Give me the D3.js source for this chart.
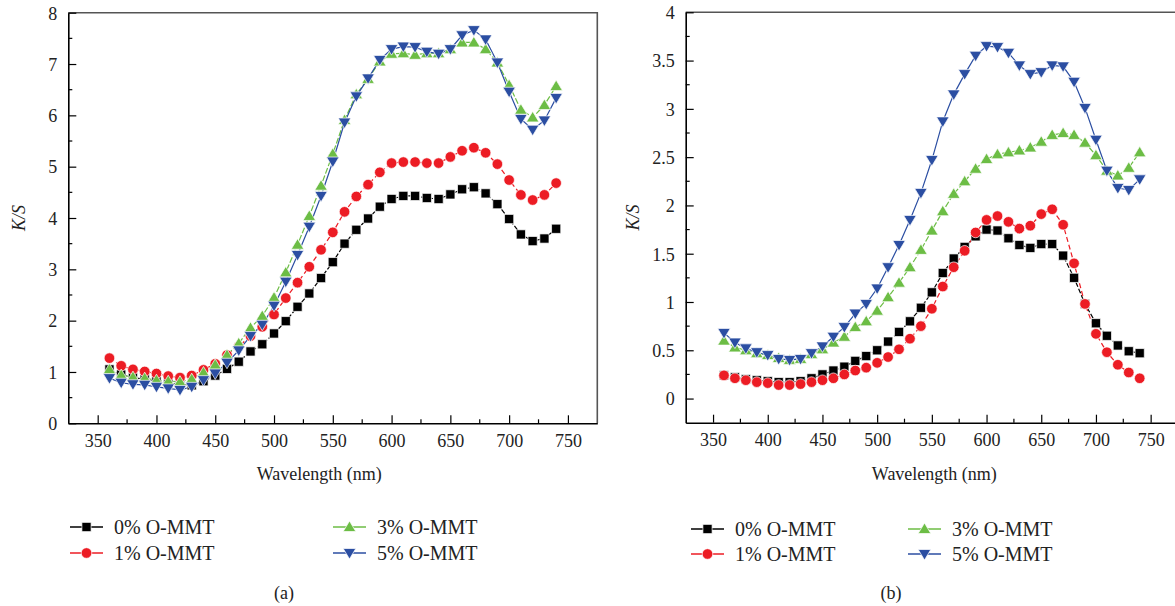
<!DOCTYPE html>
<html>
<head>
<meta charset="utf-8">
<script src="https://cdn.jsdelivr.net/npm/d3@7"></script>
<style>
  html, body { margin: 0; padding: 0; background: #fff; }
  svg { display: block; }
  svg text { font-family: "Liberation Serif", "Times New Roman", Times, serif; fill: #222; }
</style>
</head>
<body>
<svg id="fig" width="1175" height="606"></svg>
<script>
// Wavelengths (nm) at which K/S was measured
const wavelengths = [360, 370, 380, 390, 400, 410, 420, 430, 440, 450,
  460, 470, 480, 490, 500, 510, 520, 530, 540, 550,
  560, 570, 580, 590, 600, 610, 620, 630, 640, 650,
  660, 670, 680, 690, 700, 710, 720, 730, 740];

const seriesNames = ["0% O-MMT", "1% O-MMT", "3% O-MMT", "5% O-MMT"];

// Panel (a)
const ksA0 = [1.05, 0.95, 0.89, 0.86, 0.82, 0.78, 0.76, 0.74, 0.82, 0.93,
  1.06, 1.20, 1.40, 1.54, 1.75, 1.99, 2.27, 2.53, 2.83, 3.14,
  3.50, 3.77, 3.99, 4.22, 4.37, 4.43, 4.43, 4.39, 4.37, 4.46,
  4.56, 4.60, 4.48, 4.27, 3.98, 3.68, 3.55, 3.60, 3.79];
const ksA1 = [1.27, 1.12, 1.05, 1.01, 0.97, 0.92, 0.89, 0.93, 1.04, 1.16,
  1.33, 1.50, 1.70, 1.88, 2.12, 2.44, 2.74, 3.05, 3.38, 3.72,
  4.12, 4.42, 4.65, 4.89, 5.07, 5.09, 5.09, 5.07, 5.07, 5.19,
  5.31, 5.37, 5.27, 5.05, 4.74, 4.45, 4.35, 4.45, 4.68];
const ksA3 = [1.05, 0.94, 0.90, 0.88, 0.84, 0.82, 0.81, 0.86, 0.99, 1.14,
  1.33, 1.56, 1.86, 2.09, 2.45, 2.94, 3.48, 4.04, 4.63, 5.25,
  5.91, 6.41, 6.71, 7.05, 7.20, 7.21, 7.18, 7.21, 7.21, 7.29,
  7.42, 7.42, 7.29, 7.03, 6.59, 6.11, 5.96, 6.20, 6.57];
const ksA5 = [0.88, 0.79, 0.76, 0.75, 0.71, 0.68, 0.65, 0.71, 0.84, 0.97,
  1.18, 1.42, 1.70, 1.92, 2.29, 2.76, 3.28, 3.83, 4.43, 5.10,
  5.86, 6.37, 6.72, 7.08, 7.29, 7.34, 7.33, 7.24, 7.20, 7.29,
  7.56, 7.66, 7.48, 7.03, 6.46, 5.93, 5.72, 5.90, 6.34];

// Panel (b)
const ksB0 = [0.24, 0.22, 0.20, 0.19, 0.18, 0.17, 0.17, 0.18, 0.21, 0.25,
  0.29, 0.33, 0.39, 0.44, 0.50, 0.59, 0.69, 0.80, 0.94, 1.10,
  1.30, 1.45, 1.57, 1.68, 1.75, 1.74, 1.66, 1.59, 1.56, 1.60,
  1.60, 1.48, 1.25, 0.98, 0.78, 0.65, 0.55, 0.49, 0.47];
const ksB1 = [0.24, 0.21, 0.19, 0.17, 0.16, 0.14, 0.14, 0.15, 0.17, 0.19,
  0.21, 0.25, 0.29, 0.32, 0.37, 0.43, 0.51, 0.62, 0.75, 0.93,
  1.16, 1.36, 1.53, 1.72, 1.85, 1.89, 1.83, 1.76, 1.79, 1.91,
  1.96, 1.80, 1.40, 0.98, 0.67, 0.48, 0.35, 0.27, 0.21];
const ksB3 = [0.60, 0.53, 0.50, 0.47, 0.45, 0.42, 0.40, 0.41, 0.46, 0.51,
  0.58, 0.64, 0.74, 0.80, 0.91, 1.05, 1.20, 1.36, 1.54, 1.74,
  1.94, 2.12, 2.25, 2.38, 2.48, 2.53, 2.55, 2.57, 2.60, 2.66,
  2.73, 2.75, 2.73, 2.65, 2.52, 2.36, 2.31, 2.39, 2.55];
const ksB5 = [0.68, 0.58, 0.52, 0.48, 0.45, 0.41, 0.40, 0.41, 0.47, 0.54,
  0.64, 0.74, 0.88, 0.98, 1.14, 1.36, 1.59, 1.85, 2.13, 2.47,
  2.87, 3.15, 3.36, 3.55, 3.65, 3.64, 3.58, 3.45, 3.36, 3.38,
  3.45, 3.44, 3.28, 3.01, 2.68, 2.36, 2.18, 2.16, 2.27];

const xTicksMajor = [350, 400, 450, 500, 550, 600, 650, 700, 750];
const yTicksA = [0, 1, 2, 3, 4, 5, 6, 7, 8];
const yTicksB = [0, 0.5, 1, 1.5, 2, 2.5, 3, 3.5, 4];

// Drawing styles per series
const styles = [
  { color: "#000000", shape: "square", dash: "5,2" },
  { color: "#ec1c24", shape: "circle", dash: "5,3" },
  { color: "#6cbd45", shape: "up", dash: "6,2" },
  { color: "#2b4ea2", shape: "down", dash: null }
];

const FONT = "'Liberation Serif', 'Times New Roman', Times, serif";
const svg = d3.select("#fig");

function markerPath(shape) {
  if (shape === "square") return "M-4.6,-4.6H4.6V4.6H-4.6Z";
  if (shape === "up") return "M0,-6L6.3,4.5L-6.3,4.5Z";
  if (shape === "down") return "M0,6L6.3,-4.5L-6.3,-4.5Z";
  return null;
}

function drawMarker(g, shape, color, x, y) {
  if (shape === "circle") {
    g.append("circle").attr("cx", x).attr("cy", y).attr("r", 5.3)
      .attr("fill", color).attr("stroke", "#fff").attr("stroke-width", 0.7);
  } else {
    g.append("path").attr("d", markerPath(shape))
      .attr("transform", `translate(${x},${y})`)
      .attr("fill", color).attr("stroke", "#fff").attr("stroke-width", 0.7);
  }
}

function setFont(sel, size, italic) {
  sel.style("font-family", FONT).style("font-size", size + "px")
    .style("font-style", italic ? "italic" : "normal").style("fill", "#222");
}

function panel(cfg) {
  const g = svg.append("g");
  const x = d3.scaleLinear().domain([325, 775]).range([cfg.left, cfg.right]);
  const y = d3.scaleLinear().domain(cfg.yDomain).range([cfg.bottom, cfg.top]);

  // frame: top and right edges in grey
  g.append("path")
    .attr("d", `M${cfg.left},${cfg.top}H${cfg.right}V${cfg.bottom}`)
    .attr("fill", "none").attr("stroke", "#555").attr("stroke-width", 1.6);

  // bottom axis with inward ticks
  const xMinor = xTicksMajor.map(v => v + 25).filter(v => v < 775);
  const xAxis = g.append("g").attr("transform", `translate(0,${cfg.bottom})`)
    .call(d3.axisBottom(x).tickValues(xTicksMajor).tickSizeInner(-8).tickSizeOuter(0).tickPadding(11).tickFormat(d3.format("d")));
  xAxis.append("g").selectAll("line").data(xMinor).join("line")
    .attr("x1", d => x(d)).attr("x2", d => x(d)).attr("y1", 0).attr("y2", -4)
    .attr("stroke", "#000").attr("stroke-width", 1.2);

  // left axis with inward ticks
  const yAxis = g.append("g").attr("transform", `translate(${cfg.left},0)`)
    .call(d3.axisLeft(y).tickValues(cfg.yTicks).tickSizeInner(-8).tickSizeOuter(0).tickPadding(11)
      .tickFormat(d => String(d)));
  yAxis.append("g").selectAll("line").data(cfg.yMinor).join("line")
    .attr("x1", 0).attr("x2", 4).attr("y1", d => y(d)).attr("y2", d => y(d))
    .attr("stroke", "#000").attr("stroke-width", 1.2);

  [xAxis, yAxis].forEach(a => {
    a.select(".domain").attr("stroke", "#000").attr("stroke-width", 1.6);
    a.selectAll(".tick line").attr("stroke", "#000").attr("stroke-width", 1.2);
    setFont(a.selectAll(".tick text"), 18);
  });
  yAxis.selectAll(".tick text").attr("dy", "0.35em");

  // axis titles
  setFont(g.append("text").attr("x", (cfg.left + cfg.axisTitleRight) / 2).attr("y", cfg.bottom + 57)
    .attr("text-anchor", "middle").text("Wavelength (nm)"), 18);
  setFont(g.append("text")
    .attr("transform", `translate(${cfg.yTitleX},${(cfg.top + cfg.bottom) / 2}) rotate(-90)`)
    .attr("text-anchor", "middle").text("K/S"), 18, true);

  // series: connecting lines then markers
  cfg.series.forEach((vals, i) => {
    const st = styles[i];
    const pts = wavelengths.map((w, k) => [x(w), y(vals[k])]);
    g.append("path").attr("d", d3.line()(pts))
      .attr("fill", "none").attr("stroke", st.color).attr("stroke-width", 1.2)
      .attr("stroke-dasharray", st.dash);
  });
  cfg.series.forEach((vals, i) => {
    const st = styles[i];
    const mg = g.append("g");
    wavelengths.forEach((w, k) => drawMarker(mg, st.shape, st.color, x(w), y(vals[k])));
  });

  // legend
  const lg = g.append("g");
  seriesNames.forEach((name, i) => {
    const st = styles[i];
    const col = Math.floor(i / 2), row = i % 2;
    const lx = cfg.legendX[col], ly = cfg.legendY[row];
    lg.append("line").attr("x1", lx).attr("x2", lx + 33).attr("y1", ly).attr("y2", ly)
      .attr("stroke", st.color).attr("stroke-width", 1.4);
    drawMarker(lg, st.shape, st.color, lx + 16.5, ly);
    setFont(lg.append("text").attr("x", lx + 44).attr("y", ly).attr("dy", "0.35em").text(name), 20);
  });

  // panel caption
  setFont(g.append("text").attr("x", cfg.captionX).attr("y", 593).attr("dy", "0.35em")
    .attr("text-anchor", "middle").text(cfg.caption), 18);
}

panel({
  left: 68.3, right: 597.3, top: 12.7, bottom: 423.3, axisTitleRight: 570,
  yDomain: [0, 8], yTicks: yTicksA, yMinor: [0.5, 1.5, 2.5, 3.5, 4.5, 5.5, 6.5, 7.5],
  yTitleX: 25,
  series: [ksA0, ksA1, ksA3, ksA5],
  legendX: [70, 333], legendY: [527, 553],
  caption: "(a)", captionX: 284
});

panel({
  left: 685.7, right: 1178, top: 12.3, bottom: 422.7, axisTitleRight: 1183,
  yDomain: [-0.25, 4], yTicks: yTicksB,
  yMinor: [0.25, 0.75, 1.25, 1.75, 2.25, 2.75, 3.25, 3.75],
  yTitleX: 639,
  series: [ksB0, ksB1, ksB3, ksB5],
  legendX: [691, 908], legendY: [529, 554],
  caption: "(b)", captionX: 891
});
</script>
</body>
</html>
